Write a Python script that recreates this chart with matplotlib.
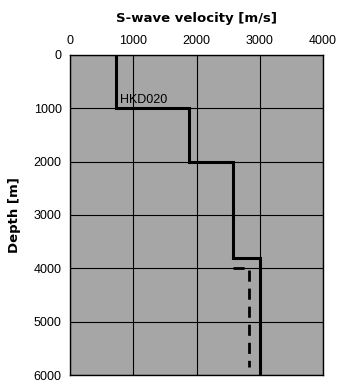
import numpy as np
import matplotlib.pyplot as plt

# layered S-wave velocity model (HKD020)
layer_top = [0, 1000, 2000, 3800]
vs = [720, 1880, 2580, 3000]
max_depth = 6000

# alternative lower part (dashed)
dash_depth = [4000, 4000, 5850]
dash_vs = [2580, 2830, 2830]

x_ticks = [0, 1000, 2000, 3000, 4000]
y_ticks = [0, 1000, 2000, 3000, 4000, 5000, 6000]

# build step profile from the layers
bounds = layer_top + [max_depth]
depth = np.repeat(bounds, 2)[1:-1]
vel = np.repeat(vs, 2)

plt.rcParams['font.family'] = ['Liberation Sans', 'DejaVu Sans']

fig = plt.figure(figsize=(3.39, 3.87), dpi=100)
ax = fig.add_axes([0.2065, 0.031, 0.7465, 0.827])
ax.set_facecolor('#a6a6a6')

ax.plot(vel, depth, color='black', lw=2.2, solid_joinstyle='miter')
ax.plot(dash_vs, dash_depth, color='black', lw=2.0, dashes=(4, 2.5))
ax.text(790, 850, 'HKD020', fontsize=9, va='center', ha='left', color='black')

ax.set_xlim(0, 4000)
ax.set_ylim(max_depth, 0)
ax.set_xticks(x_ticks)
ax.set_yticks(y_ticks)
ax.xaxis.tick_top()
ax.xaxis.set_label_position('top')
ax.tick_params(length=0, labelsize=9, pad=6)
ax.grid(True, color='black', lw=0.8)
for s in ax.spines.values():
    s.set_linewidth(1.0)

ax.set_xlabel('S-wave velocity [m/s]', fontsize=9.5, fontweight='bold',
              family='DejaVu Sans', labelpad=9)
ax.set_ylabel('Depth [m]', fontsize=9.5, fontweight='bold',
              family='DejaVu Sans', labelpad=9)

fig.savefig('out.png', dpi=100)
